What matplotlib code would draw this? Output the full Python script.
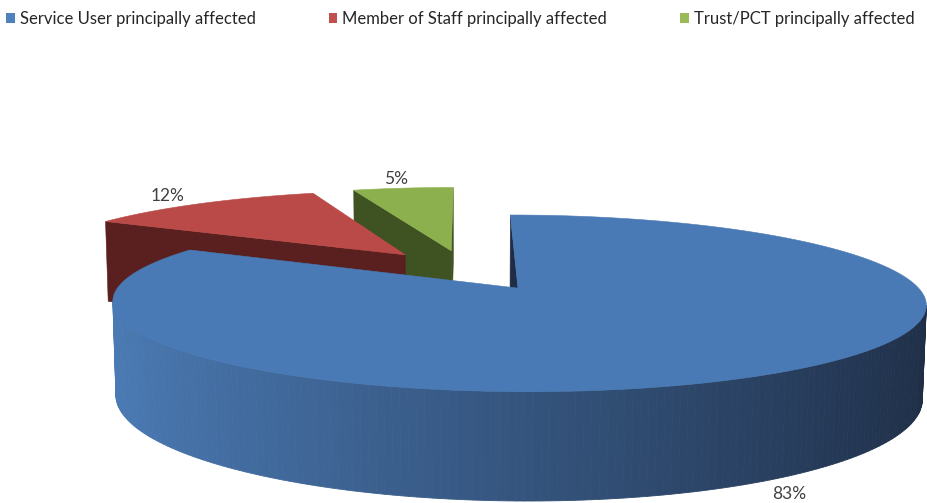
import numpy as np
import matplotlib
matplotlib.use("Agg")
import matplotlib.pyplot as plt
from matplotlib.patches import Polygon, Patch
from matplotlib.colors import to_rgb

# ---- data ----
categories = ["Service User principally affected",
              "Member of Staff principally affected",
              "Trust/PCT principally affected"]
values = [83, 12, 5]
labels = ["83%", "12%", "5%"]

top_colors = ["#4A7AB5", "#BA4A47", "#8DB04F"]
side_light = ["#4B7BB5", "#5A2020", "#3F5222"]
side_dark = ["#1E2D45", "#4A1818", "#374A1C"]
legend_colors = ["#4F81BD", "#C0504D", "#9BBB59"]

plt.rcParams['font.family'] = ['Lato', 'DejaVu Sans']

# ---- 3D projection parameters ----
W, H = 928, 503
K, F, TH = 386.0, 5.9, np.radians(11.9)
CX, CY = 466.0, 270.0
DEPTH = 0.236
EXPLODE = 0.255
ST, CT = np.sin(TH), np.cos(TH)
CAM = np.array([0.0, -F * CT, F * ST])


def proj(x, y, z):
    x, y, z = np.asarray(x, float), np.asarray(y, float), np.asarray(z, float)
    d = F + y * CT - z * ST
    s = F / d
    u = CX + K * x * s
    v = CY - K * (y * ST + z * CT) * s
    return u, v


def visible(normal, point):
    return np.dot(normal, CAM - np.asarray(point)) > 0


fig = plt.figure(figsize=(W / 100, H / 100), dpi=100)
ax = fig.add_axes([0, 0, 1, 1])
ax.set_xlim(0, W)
ax.set_ylim(H, 0)
ax.axis("off")

fracs = np.array(values, float) / np.sum(values)
starts = np.concatenate([[0], np.cumsum(fracs)[:-1]]) * 2 * np.pi
ends = np.cumsum(fracs) * 2 * np.pi

slices = []
for i in range(len(values)):
    p0, p1 = starts[i], ends[i]
    pm = 0.5 * (p0 + p1)
    c = np.array([EXPLODE * np.sin(pm), EXPLODE * np.cos(pm)])
    slices.append((i, p0, p1, pm, c))

# draw farthest first
order = sorted(slices, key=lambda s: -s[4][1])


def blend(a, b, t):
    a, b = np.array(to_rgb(a)), np.array(to_rgb(b))
    return tuple(a * (1 - t) + b * t)


for (i, p0, p1, pm, c) in order:
    n = max(int(np.degrees(p1 - p0)), 4)
    phis = np.linspace(p0, p1, n + 1)
    xs = c[0] + np.sin(phis)
    ys = c[1] + np.cos(phis)
    # radial faces
    for phi, sign in ((p0, -1), (p1, 1)):
        nrm = np.array([sign * np.cos(phi), -sign * np.sin(phi), 0.0])
        rx, ry = c[0] + np.sin(phi), c[1] + np.cos(phi)
        mid = [(c[0] + rx) / 2, (c[1] + ry) / 2, -DEPTH / 2]
        if visible(nrm, mid):
            fc = side_dark[i] if i == 0 else side_light[i]
            u, v = proj([c[0], rx, rx, c[0]], [c[1], ry, ry, c[1]],
                        [0, 0, -DEPTH, -DEPTH])
            ax.add_patch(Polygon(np.c_[u, v], closed=True, facecolor=fc,
                                 edgecolor=fc, lw=0.4))
    # outer side strips
    for k in range(n):
        phm = 0.5 * (phis[k] + phis[k + 1])
        nrm = np.array([np.sin(phm), np.cos(phm), 0.0])
        pt = [c[0] + np.sin(phm), c[1] + np.cos(phm), -DEPTH / 2]
        if not visible(nrm, pt):
            continue
        t = (np.sin(phm) + 1) / 2
        col = blend(side_light[i], side_dark[i], t)
        u, v = proj([xs[k], xs[k + 1], xs[k + 1], xs[k]],
                    [ys[k], ys[k + 1], ys[k + 1], ys[k]],
                    [0, 0, -DEPTH, -DEPTH])
        ax.add_patch(Polygon(np.c_[u, v], closed=True, facecolor=col,
                             edgecolor=col, lw=0.6))
    # top face
    u, v = proj(np.r_[c[0], xs], np.r_[c[1], ys], np.zeros(n + 2))
    ax.add_patch(Polygon(np.c_[u, v], closed=True, facecolor=top_colors[i],
                         edgecolor=top_colors[i], lw=0.4))

# data labels
for (i, p0, p1, pm, c) in slices:
    if np.cos(pm) > 0:
        r = 1.18
        lx, ly = c[0] + r * np.sin(pm), c[1] + r * np.cos(pm)
        u, v = proj(lx, ly, 0.0)
        ax.text(u, v, labels[i], ha="center", va="center", fontsize=12.5,
                color="#404040")
    else:
        r = 1.06
        lx, ly = c[0] + r * np.sin(pm), c[1] + r * np.cos(pm)
        u, v = proj(lx, ly, -DEPTH)
        ax.text(u + 8, v - 2, labels[i], ha="center", va="top", fontsize=12.5,
                color="#404040")

handles = [Patch(facecolor=legend_colors[i], edgecolor="none")
           for i in range(len(categories))]
fig.legend(handles, categories, loc="upper left", bbox_to_anchor=(-0.002, 0.994),
           ncol=3, frameon=False, fontsize=12, handlelength=0.5,
           handleheight=0.55, handletextpad=0.3, columnspacing=4.4,
           borderpad=0.3, borderaxespad=0.2, labelcolor="#262626")

fig.savefig("out.png", dpi=100)
